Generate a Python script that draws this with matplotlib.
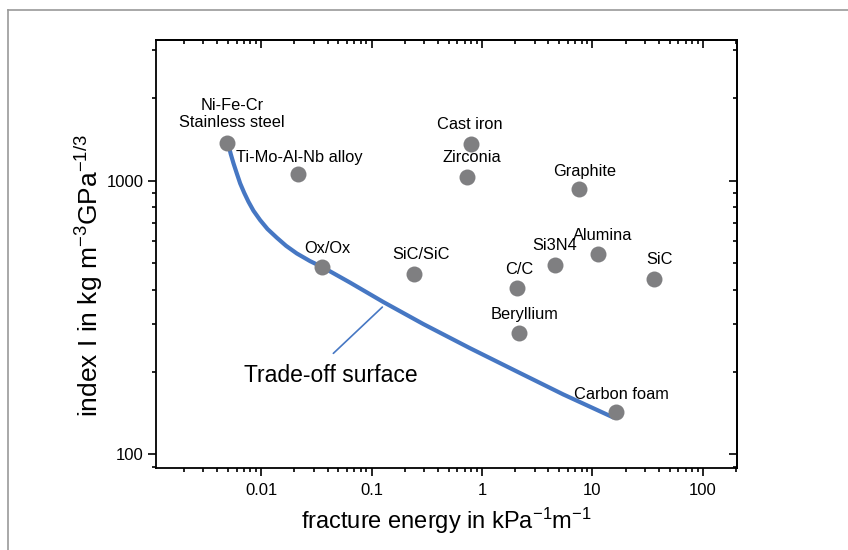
import matplotlib
matplotlib.use('Agg')
import matplotlib.pyplot as plt
import matplotlib.ticker as mticker
from matplotlib.lines import Line2D

plt.rcParams['font.family'] = ['Liberation Sans', 'DejaVu Sans']
plt.rcParams['mathtext.default'] = 'regular'

# Materials: fracture energy (kPa^-1 m^-1) and index I (kg m^-3 GPa^-1/3)
materials = ['Ni-Fe-Cr\nStainless steel', 'Ti-Mo-Al-Nb alloy', 'Cast iron', 'Zirconia',
             'Graphite', 'Ox/Ox', 'SiC/SiC', 'C/C', 'Si3N4', 'Alumina', 'SiC',
             'Beryllium', 'Carbon foam']
fracture_energy = [0.0049, 0.0216, 0.795, 0.731, 7.55, 0.0356, 0.243, 2.07, 4.58,
                   11.2, 36.0, 2.16, 16.3]
index_i = [1374, 1058, 1362, 1032, 932, 483, 456, 405, 492, 539, 437, 277, 142]

# Trade-off surface
curve_x = [0.00506, 0.00531, 0.00562, 0.00602, 0.00646, 0.00702, 0.00768, 0.00852,
           0.00979, 0.01142, 0.01386, 0.01683, 0.02103, 0.02776, 0.03665, 0.06389,
           0.1279, 0.2944, 0.7787, 2.06, 5.445, 15.43]
curve_y = [1351, 1252, 1158, 1064, 978, 904, 838, 777, 718, 666, 619, 578, 542, 508,
           481, 424, 360, 299, 244, 200.7, 165.3, 136.2]

xtick_vals = [0.01, 0.1, 1, 10, 100]
xtick_labels = ['0.01', '0.1', '1', '10', '100']
ytick_vals = [100, 1000]
ytick_labels = ['100', '1000']

# label offsets in points (dx, dy)
label_offsets = [(3.6, 21), (0.7, 12.2), (-0.7, 14.4), (3.6, 13.7), (4.3, 13),
                 (3.6, 13.7), (5, 13.7), (1.4, 13), (0, 13.7), (3.6, 13.7),
                 (4.3, 14.4), (4.3, 13.7), (4.3, 13)]

BLUE = '#4677c3'
GREY = '#7f7f81'

fig = plt.figure(figsize=(8.48, 5.5), dpi=100)
ax = fig.add_axes([0.1836, 0.149, 0.6858, 0.7782])

# Curve and points
ax.plot(curve_x, curve_y, color=BLUE, lw=3.0, solid_capstyle='round',
        solid_joinstyle='round', zorder=2)
ax.plot(fracture_energy, index_i, 'o', color=GREY, ms=11.5, mec='none', zorder=3)

for name, x, y, off in zip(materials, fracture_energy, index_i, label_offsets):
	ax.annotate(name, (x, y), xytext=off, textcoords='offset points',
	            ha='center', va='center', fontsize=11.8, linespacing=1.2)

# Pointer to the curve
ax.annotate('', xy=(0.1253, 345), xytext=(0.0451, 233.6),
            arrowprops=dict(arrowstyle='-', color=BLUE, lw=1.2, shrinkA=0, shrinkB=0))
ax.text(0.0428, 194.6, 'Trade-off surface', ha='center', va='center', fontsize=16.5)

ax.set_xscale('log')
ax.set_yscale('log')
ax.set_xlim(0.00111, 205)
ax.set_ylim(88.9, 3271)

ax.set_xticks(xtick_vals, labels=xtick_labels)
ax.set_yticks(ytick_vals, labels=ytick_labels)
ax.xaxis.set_minor_locator(mticker.LogLocator(subs=range(2, 10)))
ax.yaxis.set_minor_locator(mticker.LogLocator(subs=range(2, 10)))
ax.xaxis.set_minor_formatter(mticker.NullFormatter())
ax.yaxis.set_minor_formatter(mticker.NullFormatter())

ax.tick_params(which='both', direction='out', width=1.2, labelsize=12, top=False, right=False)
ax.tick_params(which='major', length=5.8)
ax.tick_params(which='minor', length=3)
ax.tick_params(axis='x', which='major', pad=5)
ax.tick_params(axis='y', which='major', pad=3)
for s in ax.spines.values():
	s.set_linewidth(1.3)

# Inward ticks on top and right
top = ax.secondary_xaxis('top')
right = ax.secondary_yaxis('right')
for sec, axis in ((top, top.xaxis), (right, right.yaxis)):
	axis.set_major_locator(mticker.LogLocator())
	axis.set_minor_locator(mticker.LogLocator(subs=range(2, 10)))
	axis.set_major_formatter(mticker.NullFormatter())
	axis.set_minor_formatter(mticker.NullFormatter())
	sec.tick_params(which='both', direction='in', width=1.2)
	sec.tick_params(which='major', length=5.8)
	sec.tick_params(which='minor', length=3)
	sec.spines[:].set_linewidth(1.3)

ax.set_xlabel('fracture energy in kPa$^{-1}$m$^{-1}$', fontsize=17)
ax.xaxis.set_label_coords(0.5, -0.123)
ax.xaxis.label.set_va('center')
# kept clear of the 1000 tick label
ax.set_ylabel('index I in kg m$^{-3}$GPa$^{-1/3}$', fontsize=19, va='center')
ax.yaxis.set_label_coords(-0.1145, 0.4486)

# Frame around the picture
fig.add_artist(Line2D([8 / 848, 1.0], [1 - 10 / 550, 1 - 10 / 550], color='#9a9a9a', lw=1.2))
fig.add_artist(Line2D([8 / 848, 8 / 848], [0, 1 - 10 / 550], color='#9a9a9a', lw=1.2))

fig.savefig('out.png', dpi=100)
